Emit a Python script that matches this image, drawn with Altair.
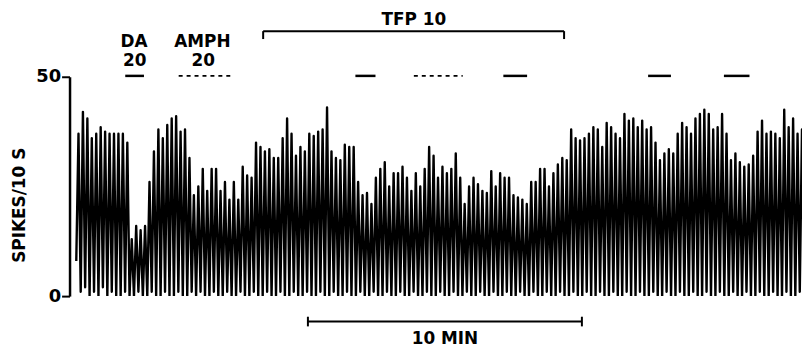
import altair as alt
import pandas as pd

# ---- ratemeter record: peak of each 10-s sweep (spikes/10 s)
peaks = [
    37, 42, 40.5, 36, 37, 38.5, 37.5, 37, 37, 37, 37, 35,
    13, 16, 15, 16,
    26, 33, 38, 36, 39, 40.5, 41, 37.5, 38, 31.5,
    23, 25, 29, 24, 29, 29, 24, 26, 22, 26, 22, 29.5, 27.5, 27, 35, 34, 33, 33.5, 31.5,
    31.5, 36, 40.5, 37, 32, 34, 33, 37, 36.5, 37.5, 38, 43, 33, 31.5, 31, 34.5, 34, 34,
    26, 23, 23.5, 21, 27, 29, 30.5, 25, 28,
    28, 29.5, 27, 24, 28, 25, 29, 34, 32, 27, 29.5, 28, 29, 32.5, 27, 21, 25, 27, 25.5, 24,
    23.5, 28.5, 25, 28, 27, 27, 23, 22.5, 22,
    21, 26, 26, 29, 29, 25, 28, 30, 31.5, 31, 38, 36, 35.5, 36, 37, 38.5, 38, 34, 39.5,
    38.5, 37, 36, 41.5, 40, 40.5, 38.5, 40, 38, 38.5, 35, 31, 32.5, 33.5, 32.5, 37, 39.5, 38.5, 37,
    40.5, 41.5, 42.5, 41.5, 38, 38.5, 41.5, 37, 31, 32.5, 30.5, 29.5, 30, 32, 37.5, 40, 37,
    37.5, 37, 36, 42.5, 38.5, 40.5, 37, 38,
]
# trough between sweeps (one before each peak and one after the last)
troughs = [
    8, 1, 2, 0, 1, 0, 2, 0, 1, 0, 0, 1, 0,
    0, 1, 0, 0,
    1, 0, 0, 1, 0, 0, 1, 0, 0, 1,
    0, 1, 0, 0, 1, 0, 0, 1, 0, 0, 1, 0, 0, 1, 0, 0, 1, 0, 0,
    1, 0, 0, 1, 0, 0, 1, 0, 0, 1, 0, 0, 1, 0, 0, 1, 0, 0,
    1, 0, 0, 1, 0, 0, 1, 0, 0,
    1, 0, 0, 1, 0, 0, 1, 0, 0, 1, 0, 0, 1, 0, 0, 1, 0, 0, 1, 0,
    0, 1, 0, 0, 1, 0, 0, 1, 0,
    0, 1, 0, 0, 1, 0, 0, 1, 0, 0, 1, 0, 0, 1, 0, 0, 1, 0, 0,
    1, 0, 0, 1, 0, 0, 1, 0, 0, 1, 0, 0, 1, 0, 0, 1, 0, 0, 1,
    0, 0, 1, 0, 0, 1, 0, 0, 1, 0, 0, 1, 0, 0, 1, 0, 0,
    1, 0, 0, 1, 0, 0, 1, 0, 0,
]
first_peak_s = 19.6
sweep_s = 9.72
record_end_s = 1604

# ---- annotations (times in s, heights in spikes/10 s units)
label_text = ["DA", "20", "AMPH", "20", "TFP 10"]
label_t = [141, 143, 291, 293, 754]
label_v = [57.9, 53.6, 57.9, 53.6, 63.0]

solid_start = [122, 626, 950, 1267, 1433]
solid_end = [163, 670, 1002, 1317, 1489]
dotted_start = [239, 754]
dotted_end = [352, 861]
bar_level = 50.2

tfp_start, tfp_end = 424, 1083
tfp_level, tfp_tick_end = 60.4, 58.6

scale_start, scale_end = 522, 1122
scale_level, scale_tick_hi, scale_tick_lo = -5.8, -4.7, -6.9
scale_text, scale_text_t, scale_text_v = "10 MIN", 822, -9.8

FONT = "DejaVu Sans"

rows = []
for i, p in enumerate(peaks):
    t = first_peak_s + sweep_s * i
    rows.append({"t": t - sweep_s / 2, "v": troughs[i], "o": 2 * i})
    rows.append({"t": t, "v": p, "o": 2 * i + 1})
rows.append({"t": first_peak_s + sweep_s * (len(peaks) - 1) + sweep_s / 2,
             "v": troughs[len(peaks)], "o": 2 * len(peaks)})
trace = pd.DataFrame(rows)

xs = alt.Scale(domain=[0, record_end_s], nice=False, zero=False)
ys = alt.Scale(domain=[0, 50], nice=False)

line = alt.Chart(trace).mark_line(color="black", strokeWidth=2.4, strokeJoin="round",
                                  clip=True).encode(
    x=alt.X("t:Q", scale=xs, axis=None),
    y=alt.Y("v:Q", scale=ys, axis=alt.Axis(
        values=[0, 50], tickSize=8, tickWidth=2, tickColor="black",
        domainColor="black", domainWidth=2.5, labelFontSize=18, labelFont=FONT,
        labelFontWeight="bold", labelColor="black", labelPadding=1, grid=False,
        title="SPIKES/10 S", titleFont=FONT, titleFontSize=17, titleFontWeight="bold",
        titleColor="black", titleX=-50, titleY=129, titleAngle=270,
        titleAlign="center", titleBaseline="middle")),
    order="o:Q",
)

labels_df = pd.DataFrame({"t": label_t, "v": label_v, "txt": label_text})
labels = alt.Chart(labels_df).mark_text(font=FONT, fontSize=17, fontWeight="bold",
                                        color="black", baseline="middle",
                                        align="center").encode(
    x=alt.X("t:Q", scale=xs), y=alt.Y("v:Q", scale=ys), text="txt:N")

solid_df = pd.DataFrame({"t": solid_start, "t2": solid_end, "v": [bar_level] * len(solid_start)})
solid = alt.Chart(solid_df).mark_rule(color="black", strokeWidth=2.5).encode(
    x=alt.X("t:Q", scale=xs), x2="t2:Q", y=alt.Y("v:Q", scale=ys))

dotted_df = pd.DataFrame({"t": dotted_start, "t2": dotted_end, "v": [bar_level] * len(dotted_start)})
dotted = alt.Chart(dotted_df).mark_rule(color="black", strokeWidth=1.6, strokeDash=[4, 4]).encode(
    x=alt.X("t:Q", scale=xs), x2="t2:Q", y=alt.Y("v:Q", scale=ys))

h_df = pd.DataFrame({"t": [tfp_start, scale_start], "t2": [tfp_end, scale_end],
                     "v": [tfp_level, scale_level]})
hrules = alt.Chart(h_df).mark_rule(color="black", strokeWidth=2).encode(
    x=alt.X("t:Q", scale=xs), x2="t2:Q", y=alt.Y("v:Q", scale=ys))

v_df = pd.DataFrame({"t": [tfp_start, tfp_end, scale_start, scale_end],
                     "v": [tfp_level, tfp_level, scale_tick_hi, scale_tick_hi],
                     "v2": [tfp_tick_end, tfp_tick_end, scale_tick_lo, scale_tick_lo]})
vrules = alt.Chart(v_df).mark_rule(color="black", strokeWidth=2).encode(
    x=alt.X("t:Q", scale=xs), y=alt.Y("v:Q", scale=ys), y2="v2:Q")

sb_df = pd.DataFrame({"t": [scale_text_t], "v": [scale_text_v], "txt": [scale_text]})
sb_text = alt.Chart(sb_df).mark_text(font=FONT, fontSize=17, fontWeight="bold",
                                     color="black", baseline="middle",
                                     align="center").encode(
    x=alt.X("t:Q", scale=xs), y=alt.Y("v:Q", scale=ys), text="txt:N")

chart = alt.layer(line, labels, solid, dotted, hrules, vrules, sb_text).properties(
    width=738, height=221,
    autosize=alt.AutoSizeParams(type="none"),
    padding={"left": 62, "top": 68, "right": 0, "bottom": 51},
    background="white",
).configure_view(stroke=None)

chart.save("out.html", embed_options={"renderer": "svg", "actions": False})
